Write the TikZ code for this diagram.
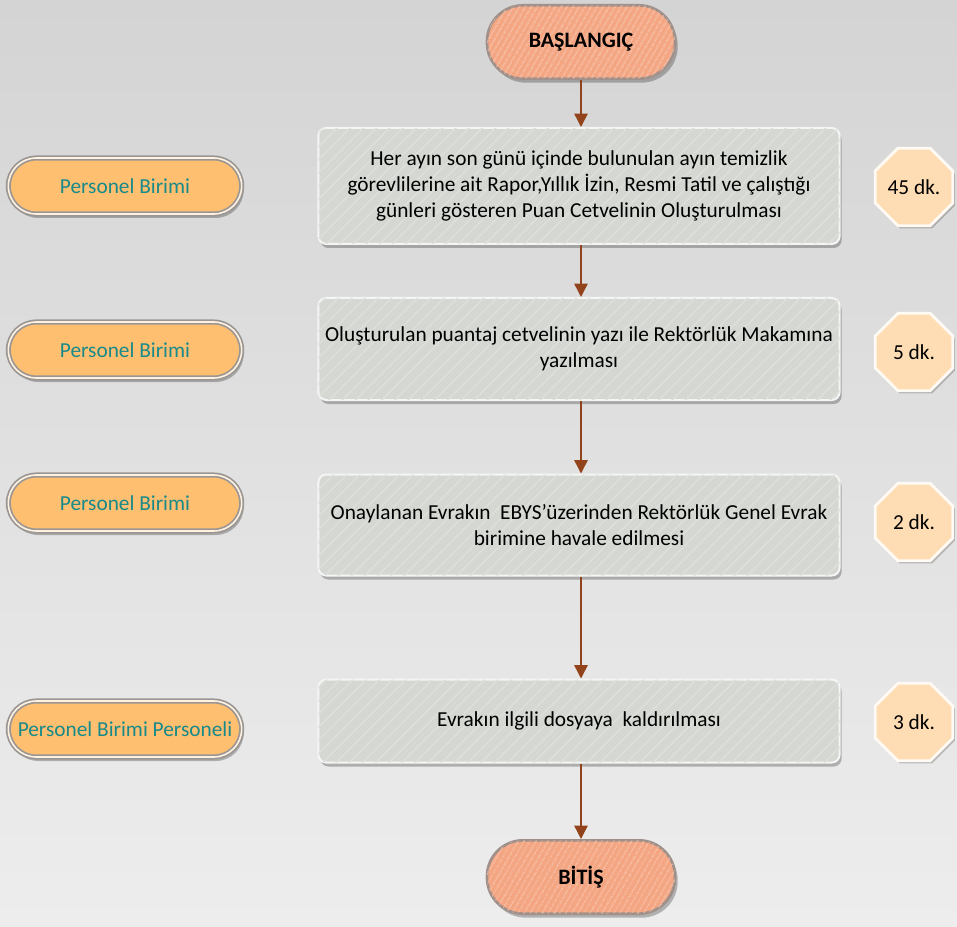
\documentclass[tikz,border=0pt]{standalone}
\usepackage{fontspec}
\setmainfont{Carlito}
\usetikzlibrary{shapes.geometric,shadows,patterns.meta,arrows.meta}
\definecolor{bgtop}{HTML}{D4D4D4}
\definecolor{bgbot}{HTML}{EDEDED}
\definecolor{termfill}{HTML}{F4A683}
\definecolor{termdraw}{HTML}{A09089}
\definecolor{procfill}{HTML}{D5D8D2}
\definecolor{procline}{HTML}{DDDFDA}
\definecolor{labfill}{HTML}{FFBF70}
\definecolor{labtext}{HTML}{178A8A}
\definecolor{laborder}{HTML}{9A9693}
\definecolor{octfill}{HTML}{FFDDB4}
\definecolor{arrowc}{HTML}{93431C}
\tikzset{
  term/.style={draw=termdraw, line width=2pt, fill=termfill, rounded corners=27pt,
    minimum width=141pt, minimum height=55pt, inner sep=0pt,
    font=\fontsize{16.5}{18}\selectfont\bfseries,
    drop shadow={shadow xshift=2pt, shadow yshift=-3pt, opacity=0.25, fill=black},
    postaction={pattern={Lines[angle=60,distance=4pt,line width=0.6pt]}, pattern color=white!35!termfill}},
  proc/.style={draw=white!92!gray, line width=1.5pt, fill=procfill, rounded corners=6pt,
    minimum width=391pt, inner sep=0pt, align=center,
    font=\fontsize{16}{19.5}\selectfont,
    drop shadow={shadow xshift=1.5pt, shadow yshift=-3pt, opacity=0.25, fill=black},
    postaction={pattern={Lines[angle=45,distance=7pt,line width=1.2pt]}, pattern color=procline}},
  lab/.style={draw=laborder, line width=1.3pt, double=white!80!labfill, double distance=1.2pt,
    fill=labfill, rounded corners=21pt, minimum width=175pt, minimum height=42pt,
    inner sep=0pt, text=labtext, font=\fontsize{16}{18}\selectfont,
    drop shadow={shadow xshift=1.5pt, shadow yshift=-3pt, opacity=0.25, fill=black}},
  oct/.style={regular polygon, regular polygon sides=8, minimum size=63pt, inner sep=0pt,
    fill=octfill, draw=white!85!octfill, line width=2pt,
    font=\fontsize{16}{18}\selectfont,
    drop shadow={shadow xshift=1.5pt, shadow yshift=-2pt, opacity=0.2, fill=black}},
  conn/.style={draw=arrowc, line width=1.1pt, -{Triangle[length=10pt,width=10pt]}}
}
\begin{document}
\begin{tikzpicture}[x=0.75pt,y=-0.75pt]
\shade[top color=bgtop,bottom color=bgbot] (0,0) rectangle (957,927);
\useasboundingbox (0,0) rectangle (957,927);

\node[term] (start) at (581,42) {BAŞLANGIÇ};

\node[proc, minimum height=87pt] (p1) at (579,186)
  {Her ayın son günü içinde bulunulan ayın temizlik\\görevlilerine ait Rapor,Yıllık İzin, Resmi Tatil ve çalıştığı\\günleri gösteren Puan Cetvelinin Oluşturulması};
\node[lab] (l1) at (125,186) {Personel Birimi};
\node[oct] (o1) at (914,187) {45 dk.};

\node[proc, minimum height=76.5pt] (p2) at (579,349)
  {Oluşturulan puantaj cetvelinin yazı ile Rektörlük Makamına\\yazılması};
\node[lab] (l2) at (125,350) {Personel Birimi};
\node[oct] (o2) at (914,352) {5 dk.};

\node[proc, minimum height=75.75pt] (p3) at (579,525)
  {Onaylanan Evrakın\ \ EBYS’üzerinden Rektörlük Genel Evrak\\birimine havale edilmesi};
\node[lab] (l3) at (125,503) {Personel Birimi};
\node[oct] (o3) at (914,522) {2 dk.};

\node[proc, minimum height=62.25pt] (p4) at (579,721)
  {Evrakın ilgili dosyaya\ \ kaldırılması};
\node[lab] (l4) at (125,729) {Personel Birimi Personeli};
\node[oct] (o4) at (914,722) {3 dk.};

\node[term] (end) at (581,877) {BİTİŞ};

\draw[conn] (start.south) -- (start.south |- p1.north);
\draw[conn] (start.south |- p1.south) -- (start.south |- p2.north);
\draw[conn] (start.south |- p2.south) -- (start.south |- p3.north);
\draw[conn] (start.south |- p3.south) -- (start.south |- p4.north);
\draw[conn] (start.south |- p4.south) -- (end.north);
\end{tikzpicture}
\end{document}
